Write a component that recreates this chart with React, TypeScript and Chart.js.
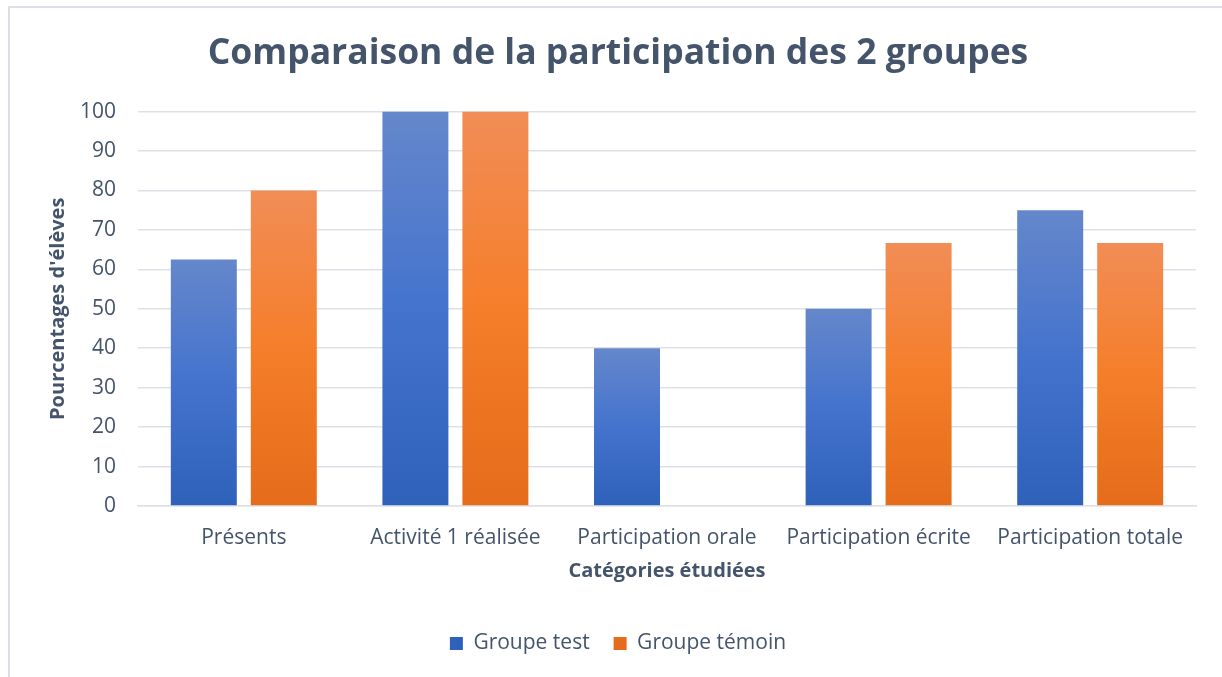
import React, { useEffect, useRef } from "react";
import { Chart, registerables } from "chart.js";

Chart.register(...registerables);

const categories = [
  "Présents",
  "Activité 1 réalisée",
  "Participation orale",
  "Participation écrite",
  "Participation totale",
];
const groupeTest = [62.5, 100, 40, 50, 75];
const groupeTemoin = [80, 100, 0, 66.7, 66.7];
const yTicks = [0, 10, 20, 30, 40, 50, 60, 70, 80, 90, 100];

const TEXT = "#44546A";
const FONT = "'Open Sans', sans-serif";

const blueStops = ["#6587CB", "#4473CD", "#2E61BA"];
const orangeStops = ["#F18D56", "#F57E2A", "#E46C1A"];

function gradientFill(stops: string[]) {
  return (c: any) => {
    if (c.type !== "data") return stops[1];
    const chart = c.chart;
    const y = chart.scales?.y;
    if (!y) return stops[1];
    const v = c.raw as number;
    const top = y.getPixelForValue(v);
    const bottom = y.getPixelForValue(0);
    if (!isFinite(top) || !isFinite(bottom) || bottom - top < 1) return stops[1];
    const g = chart.ctx.createLinearGradient(0, top, 0, bottom);
    g.addColorStop(0, stops[0]);
    g.addColorStop(0.5, stops[1]);
    g.addColorStop(1, stops[2]);
    return g;
  };
}

const borderPlugin = {
  id: "outerBorder",
  beforeDraw(chart: any) {
    const ctx = chart.ctx;
    ctx.save();
    ctx.fillStyle = "#FFFFFF";
    ctx.fillRect(0, 0, chart.width, chart.height);
    ctx.strokeStyle = "#DCE0E6";
    ctx.lineWidth = 2;
    ctx.strokeRect(9, 7, chart.width + 50, chart.height + 50);
    ctx.restore();
  },
};

export default function App() {
  const ref = useRef<HTMLCanvasElement | null>(null);

  useEffect(() => {
    if (!ref.current) return;
    const chart = new Chart(ref.current, {
      type: "bar",
      data: {
        labels: categories,
        datasets: [
          {
            label: "Groupe test",
            data: groupeTest,
            backgroundColor: gradientFill(blueStops) as any,
            categoryPercentage: 0.756,
            barPercentage: 0.825,
          },
          {
            label: "Groupe témoin",
            data: groupeTemoin,
            backgroundColor: gradientFill(orangeStops) as any,
            categoryPercentage: 0.756,
            barPercentage: 0.825,
          },
        ],
      },
      options: {
        responsive: false,
        animation: false,
        layout: { padding: { left: 40, right: 26, top: 0, bottom: 13 } },
        plugins: {
          title: {
            display: true,
            text: "Comparaison de la participation des 2 groupes",
            color: TEXT,
            font: { family: FONT, size: 35.5, weight: "bold" },
            padding: { top: 33, bottom: 36 },
          },
          legend: {
            position: "bottom",
            labels: {
              color: TEXT,
              font: { family: FONT, size: 21 },
              boxWidth: 13,
              boxHeight: 13,
              padding: 24,
            },
          },
          tooltip: { enabled: false },
        },
        scales: {
          x: {
            grid: { display: false, drawTicks: false },
            border: { display: true, color: "#DDE1E7", width: 1.5 },
            ticks: {
              color: TEXT,
              font: { family: FONT, size: 21 },
              padding: 19,
              maxRotation: 0,
              autoSkip: false,
            },
            title: {
              display: true,
              text: "Catégories étudiées",
              color: TEXT,
              font: { family: FONT, size: 20, weight: "bold" },
              padding: { top: 0, bottom: 26 },
            },
            afterFit(scale: any) {
              scale.height = 103;
            },
          },
          y: {
            min: 0,
            max: 100,
            afterBuildTicks(scale: any) {
              scale.ticks = yTicks.map((v) => ({ value: v }));
            },
            grid: { color: "#DDE1E7", lineWidth: 1.5, drawTicks: false },
            border: { display: false },
            ticks: {
              color: TEXT,
              font: { family: FONT, size: 21 },
              padding: 22,
            },
            title: {
              display: true,
              text: "Pourcentages d'élèves",
              color: TEXT,
              font: { family: FONT, size: 20, weight: "bold" },
              padding: { top: 6, bottom: 0 },
            },
            afterFit(scale: any) {
              scale.width = 98;
            },
          },
        },
      },
      plugins: [borderPlugin],
    });
    return () => chart.destroy();
  }, []);

  return (
    <div style={{ position: "fixed", left: 0, top: 0, width: 1222, height: 677, background: "#fff" }}>
      <canvas ref={ref} width={1222} height={677} style={{ display: "block" }} />
    </div>
  );
}
